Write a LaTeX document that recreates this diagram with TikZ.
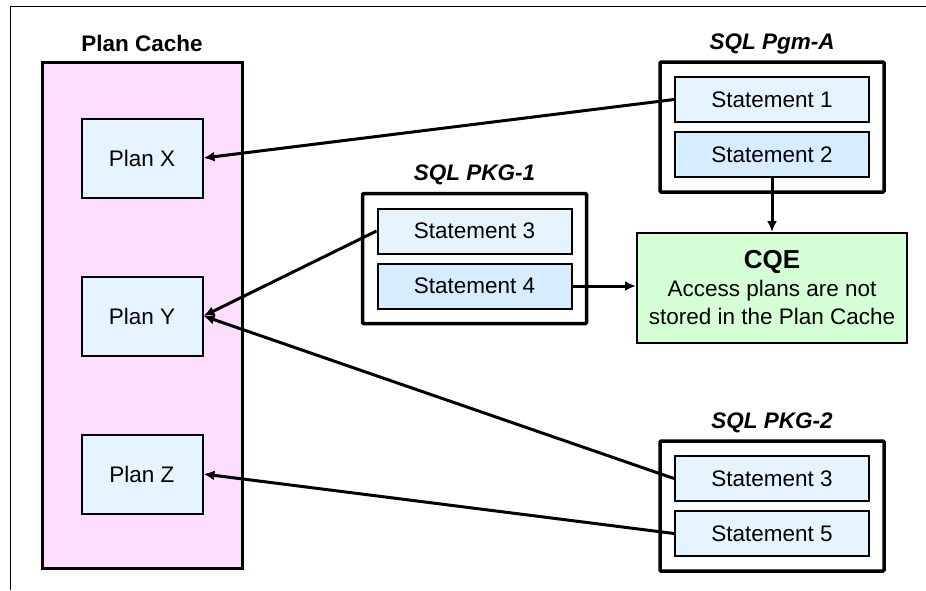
\documentclass[tikz,border=0pt]{standalone}
\usepackage{fontspec}
\setmainfont{Liberation Sans}
\usepackage{xcolor}
\usepackage{tikz}
\usetikzlibrary{shapes,arrows.meta,positioning,fit,calc}

\definecolor{cachepink}{HTML}{FFDDFF}
\definecolor{planblue}{HTML}{E6F4FF}
\definecolor{stmtblue}{HTML}{D5EDFF}
\definecolor{cqegreen}{HTML}{D5FFD5}

\begin{document}
\begin{tikzpicture}[x=1pt, y=1pt, node distance=8pt,
    every node/.style={font=\fontsize{22.5}{28}\selectfont},
    plan/.style={rectangle, draw, line width=2pt, fill=planblue, minimum width=121pt, minimum height=79pt},
    stmt/.style={rectangle, draw, line width=2pt, fill=planblue, minimum width=194pt, minimum height=45pt},
    group/.style={rectangle, draw, line width=3.5pt, inner sep=14pt, rounded corners=1pt},
    grouptitle/.style={font=\fontsize{22.5}{28}\selectfont\bfseries\itshape, inner sep=0pt, text depth=0pt},
    link/.style={line width=3pt, -{Latex[length=11pt,width=10pt]}}]
    \useasboundingbox (0,0) rectangle (926,-590);
    \draw [line width=1pt] (10.5,-590) -- (10.5,-6) -- (926,-6);

    % plan cache
    \node (plancache) [rectangle, draw, line width=3pt, fill=cachepink, minimum width=200pt, minimum height=506pt] at (142,-315) {};
    \node (cachetitle) [grouptitle, font=\fontsize{22.5}{28}\selectfont\bfseries, above=9pt of plancache] {Plan Cache};
    \node (planx) [plan, below=57pt of plancache.north] {Plan X};
    \node (plany) [plan, below=77pt of planx] {Plan Y};
    \node (planz) [plan, below=77pt of plany] {Plan Z};

    % programs and packages
    \node (stmtone) [stmt] at (772,-99.5) {Statement 1};
    \node (stmttwo) [stmt, fill=stmtblue, below=of stmtone] {Statement 2};
    \node (pgma) [group, fit=(stmtone)(stmttwo)] {};
    \node (pgmatitle) [grouptitle, above=11pt of pgma] {SQL Pgm-A};

    \node (stmtthree) [stmt] at (474.5,-231) {Statement 3};
    \node (stmtfour) [stmt, fill=stmtblue, below=of stmtthree] {Statement 4};
    \node (pkgone) [group, fit=(stmtthree)(stmtfour)] {};
    \node (pkgonetitle) [grouptitle, above=11pt of pkgone] {SQL PKG-1};

    \node (stmtthreeb) [stmt] at (772,-478.5) {Statement 3};
    \node (stmtfive) [stmt, below=of stmtthreeb] {Statement 5};
    \node (pkgtwo) [group, fit=(stmtthreeb)(stmtfive)] {};
    \node (pkgtwotitle) [grouptitle, above=11pt of pkgtwo] {SQL PKG-2};

    \node (cqe) [rectangle, draw, line width=2pt, fill=cqegreen, minimum width=270pt, minimum height=110pt, align=center, below=54pt of stmttwo] {{\fontsize{26}{29}\selectfont\bfseries CQE}\\Access plans are not\\stored in the Plan Cache};

    \draw [link] (stmtone.west) -- (planx.east);
    \draw [link] (stmtthree.west) -- (plany.east);
    \draw [link] (stmtthreeb.west) -- (plany.east);
    \draw [link] (stmtfive.west) -- (planz.east);
    \draw [link] (stmtfour.east) -- (stmtfour.east -| cqe.west);
    \draw [link] (stmttwo) -- (cqe);
\end{tikzpicture}
\end{document}
